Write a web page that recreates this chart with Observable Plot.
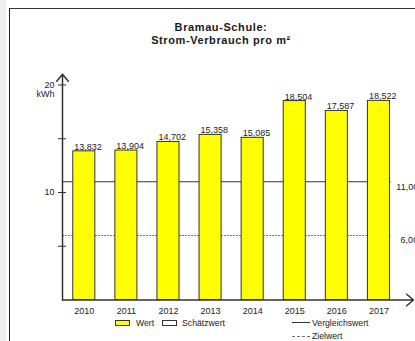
<!DOCTYPE html>
<html><head><meta charset="utf-8">
<script src="https://cdn.jsdelivr.net/npm/d3@7"></script>
<script src="https://cdn.jsdelivr.net/npm/@observablehq/plot@0.6"></script>
<style>
body{margin:0;background:#fff;font-family:"Liberation Sans",Arial,sans-serif;}
#wrap{position:relative;width:415px;height:341px;overflow:hidden;background:#fff;}
#strip{position:absolute;left:0;top:0;width:6px;height:341px;background:#f0f0f0;}
#frame{position:absolute;left:9px;top:8px;width:500px;height:400px;border-left:1px solid #222;border-top:1px solid #333;}
#title{position:absolute;left:9px;width:424px;top:21px;text-align:center;font-weight:bold;font-size:11px;line-height:13px;letter-spacing:0.6px;color:#1a1a1a;}
#chart{position:absolute;left:0;top:55px;}
.lg{position:absolute;font-size:8.7px;line-height:10px;color:#222;white-space:nowrap;}
.sw{position:absolute;height:4px;width:13px;border:1px solid #333;}
.ln{position:absolute;width:18px;height:0;}
</style></head>
<body><div id="wrap">
<div id="strip"></div>
<div id="frame"></div>
<div id="title"></div>
<div id="chart"></div>
<div class="sw" id="sw0" style="left:115px;top:319.5px;background:#ffff00;"></div>
<div class="lg" id="lg0" style="left:136px;top:318px;"></div>
<div class="sw" id="sw1" style="left:162px;top:319.5px;background:#fff;"></div>
<div class="lg" id="lg1" style="left:182px;top:318px;"></div>
<div class="ln" style="left:292px;top:322px;border-top:1px solid #333;"></div>
<div class="lg" id="lg2" style="left:312px;top:317.5px;"></div>
<div class="ln" style="left:292px;top:335.5px;border-top:1px dashed #777;"></div>
<div class="lg" id="lg3" style="left:312px;top:331px;"></div>
</div>
<script>
const years = [2010, 2011, 2012, 2013, 2014, 2015, 2016, 2017];
const values = [13.832, 13.904, 14.702, 15.358, 15.085, 18.504, 17.587, 18.522];
const refValues = [11, 6];
const refNames = ["Vergleichswert", "Zielwert"];
const barNames = ["Wert", "Schätzwert"];
const yTickLabels = [10, 20];
const yMinorTicks = [5, 10, 15, 20];
const titleLines = ["Bramau-Schule:", "Strom-Verbrauch pro m²"];
const unit = "kWh";

const de3 = d => d.toFixed(3).replace(".", ",");
const de2 = d => d.toFixed(2).replace(".", ",");

const bars = years.map((year, i) => ({year, value: values[i]}));
const refs = refValues.map((value, i) => ({value, name: refNames[i]}));

document.getElementById("title").innerHTML = titleLines.join("<br>");
document.getElementById("lg0").textContent = barNames[0];
document.getElementById("lg1").textContent = barNames[1];
document.getElementById("lg2").textContent = refNames[0];
document.getElementById("lg3").textContent = refNames[1];

const half = 0.262;
const xStart = 2009.482, xEnd = 2017.821;
const lastX = years[years.length - 1] + 0.29;
const ink = "#333";

const chart = Plot.plot({
  width: 415, height: 262,
  marginLeft: 62, marginRight: 2, marginTop: 29.5, marginBottom: 17.5,
  style: {fontFamily: "'Liberation Sans', Arial, sans-serif", fontSize: "9px", color: "#222", background: "transparent", overflow: "visible"},
  x: {domain: [xStart, xEnd]},
  y: {domain: [0, 20]},
  marks: [
    Plot.ruleY(refs.slice(0, 1), {y: "value", x1: xStart, x2: lastX, stroke: ink, strokeWidth: 1}),
    Plot.ruleY(refs.slice(1), {y: "value", x1: xStart, x2: lastX, stroke: "#777", strokeWidth: 1, strokeDasharray: "2,1"}),
    Plot.rectY(bars, {x1: d => d.year - half, x2: d => d.year + half, y1: 0, y2: "value", fill: "#ffff00", stroke: ink, strokeWidth: 1}),
    Plot.text(bars, {x: d => d.year - half, y: "value", text: d => de3(d.value), textAnchor: "start", lineAnchor: "bottom", dx: 1, dy: -1.5}),
    Plot.text(refs, {x: lastX, y: "value", text: d => de2(d.value), textAnchor: "end", lineAnchor: "top", dx: 27, dy: 1.5}),
    Plot.ruleY(yMinorTicks, {x1: xStart - 0.095, x2: xStart + 0.095, stroke: ink}),
    Plot.arrow([0], {x1: xStart, y1: 0, x2: xStart, y2: 21, stroke: ink, headLength: 9, headAngle: 80}),
    Plot.arrow([0], {x1: xStart, y1: 0, x2: xEnd, y2: 0, stroke: ink, headLength: 9, headAngle: 80}),
    Plot.axisY({ticks: yTickLabels, tickSize: 0, tickPadding: 8, tickFormat: d => String(d), label: null}),
    Plot.axisX({ticks: years, tickSize: 0, tickPadding: 8, tickFormat: d => String(d), label: null}),
    Plot.text([unit], {x: xStart, y: 20, text: d => d, textAnchor: "end", dx: -8, dy: 9})
  ]
});
document.getElementById("chart").appendChild(chart);
</script>
</body></html>
